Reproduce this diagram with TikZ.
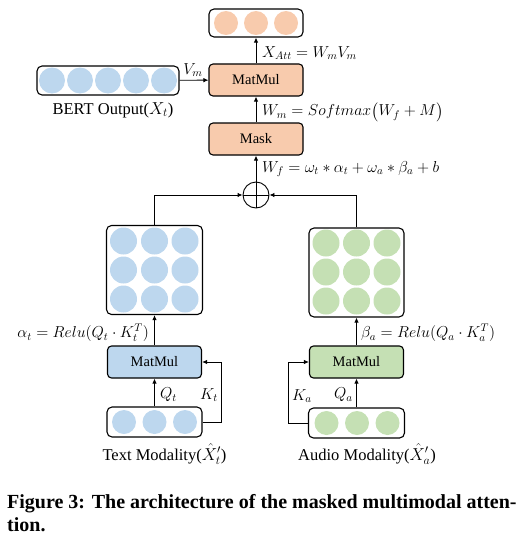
\documentclass[tikz,border=0pt]{standalone}
\usepackage{amsmath}
\usepackage{graphicx}
\usepackage{fontspec}
\setmainfont{Liberation Serif}
\usepackage{tikz}
\usetikzlibrary{arrows.meta}
\usetikzlibrary{positioning}
\definecolor{orng}{RGB}{248,203,173}
\definecolor{lblue}{RGB}{189,215,238}
\definecolor{lgreen}{RGB}{197,224,180}
\newcommand{\mlbl}[1]{\scalebox{1.1}{$#1$}}
\tikzset{
	opnode/.style={rectangle, rounded corners=4pt, draw=black, line width=1.1pt, minimum width=94pt, minimum height=32pt, font=\fontsize{14.5}{16}\selectfont},
	vecbox/.style={rectangle, rounded corners=5pt, draw=black, line width=1.1pt, inner sep=0pt},
	plusnode/.style={circle, draw=black, line width=0.9pt, minimum size=26pt, inner sep=0pt},
	arr/.style={-{Latex[length=5pt,width=4.5pt]}, line width=0.9pt},
	mathlbl/.style={font=\fontsize{14.4}{17}\selectfont, inner sep=1pt},
	txtlbl/.style={font=\fontsize{16.5}{19}\selectfont, inner sep=1pt},
	caplbl/.style={anchor=base west, inner sep=0pt, font=\bfseries\fontsize{20}{23}\selectfont}
}

\begin{document}
\begin{tikzpicture}[x=1pt, y=-1pt]
	\useasboundingbox (0,0) rectangle (528,543);
	% circles inside the boxes
	\foreach \cx in {226,256,286} \fill[orng] (\cx,23) circle (12pt);
	\foreach \cx in {52,80,108,136,164} \fill[lblue] (\cx,80.5) circle (13pt);
	\foreach \cx in {123.5,154.5,185} \foreach \cy in {241,270,299} \fill[lblue] (\cx,\cy) circle (13.5pt);
	\foreach \cx in {326,356.5,387} \foreach \cy in {243,272,301} \fill[lgreen] (\cx,\cy) circle (13.5pt);
	\foreach \cx in {124,154.5,185} \fill[lblue] (\cx,422) circle (12pt);
	\foreach \cx in {326.5,357,387.5} \fill[lgreen] (\cx,423) circle (12pt);
	
	\node[vecbox, minimum width=94pt, minimum height=28pt] at (256,23) (out) {};
	\node[opnode, fill=orng] at (256,80) (mm) {MatMul};
	\node[opnode, fill=orng] at (256,139) (mask) {Mask};
	\node[plusnode] at (256,195) (plus) {};
	\draw[line width=0.9pt] (plus.north) -- (plus.south) (plus.west) -- (plus.east);
	\node[vecbox, minimum width=142pt, minimum height=29pt] at (108,80.5) (bert) {};
	
	\node[vecbox, minimum width=96pt, minimum height=89pt] at (154.5,270) (amat) {};
	\node[vecbox, minimum width=95pt, minimum height=89pt] at (356.5,272.5) (bmat) {};
	\node[opnode, fill=lblue] at (154.5,362) (mmt) {MatMul};
	\node[opnode, fill=lgreen] at (356.5,362) (mma) {MatMul};
	\node[vecbox, minimum width=95pt, minimum height=30pt] at (154.5,422) (txt) {};
	\node[vecbox, minimum width=96pt, minimum height=30pt] at (356.5,423) (aud) {};
	
	\draw[arr] (mm) -- (out);
	\draw[arr] (mask) -- (mm);
	\draw[arr] (plus) -- (mask);
	\draw[arr] (bert) -- (mm);
	\draw[arr] (amat.north) |- (plus.west);
	\draw[arr] (bmat.north) |- (plus.east);
	\draw[arr] (mmt) -- (amat);
	\draw[arr] (mma) -- (bmat);
	\draw[arr] (txt) -- (mmt);
	\draw[arr] (aud) -- (mma);
	\draw[arr] (txt.east) -- ++(19,0) |- (mmt.east);
	\draw[arr] (aud.west) -- ++(-20,0) |- (mma.west);
	
	\node[mathlbl, anchor=west] at (261,53) (xatt) {\mlbl{X_{Att}=W_mV_m}};
	\node[mathlbl] at (193,70) (vm) {\mlbl{V_m}};
	\node[mathlbl, anchor=west] at (261,112) (wm) {\mlbl{W_m=Softmax\big(W_f+M\big)}};
	\node[mathlbl, anchor=west] at (261,169) (wf) {\mlbl{W_f=\omega_t*\alpha_t+\omega_a*\beta_a+b}};
	\node[mathlbl, anchor=east] at (150,333) (al) {\mlbl{\alpha_t=Relu(Q_t\cdot K_t^T)}};
	\node[mathlbl, anchor=west] at (360,333) (be) {\mlbl{\beta_a=Relu(Q_a\cdot K_a^T)}};
	\node[mathlbl, anchor=west] at (159,395) (qt) {\mlbl{Q_t}};
	\node[mathlbl, anchor=east] at (219,395) (kt) {\mlbl{K_t}};
	\node[mathlbl, anchor=west] at (291,396) (ka) {\mlbl{K_a}};
	\node[mathlbl, anchor=east] at (354,395) (qa) {\mlbl{Q_a}};
	
	\node[txtlbl] at (113,110) (bertl) {BERT Output($X_t$)};
	\node[txtlbl] at (164.5,454) (txtl) {Text Modality($\hat{X}_t'$)};
	\node[txtlbl] at (367,454) (audl) {Audio Modality($\hat{X}_a'$)};
	
	\node[caplbl] at (7,508) (cap1) {Figure 3: The architecture of the masked multimodal atten-};
	\node[caplbl] at (7,531) (cap2) {tion.};
\end{tikzpicture}
\end{document}
